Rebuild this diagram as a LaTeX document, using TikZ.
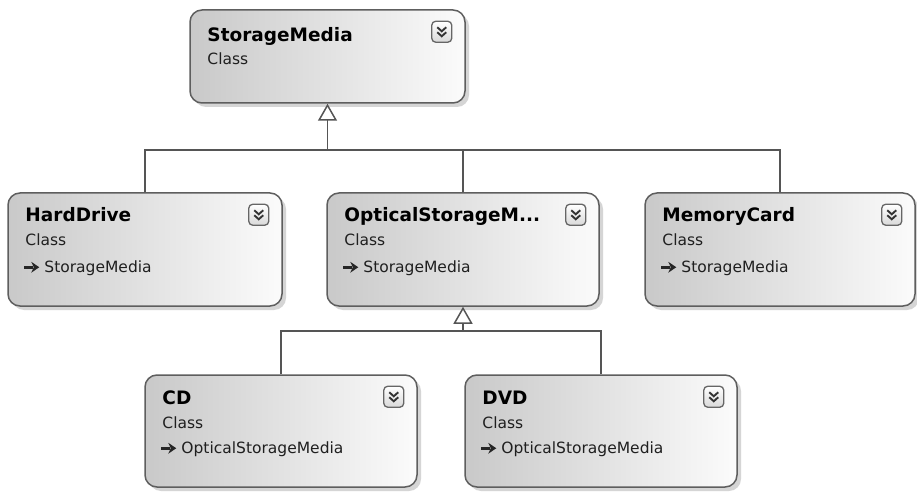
\documentclass[tikz,border=0pt]{standalone}
\usepackage{fontspec}
\setmainfont{DejaVu Sans}
\usetikzlibrary{arrows.meta,shadows}
\definecolor{boxline}{HTML}{5E5E5E}
\definecolor{connc}{HTML}{555555}
\definecolor{shadeL}{HTML}{C9C9C9}
\definecolor{shadeR}{HTML}{FBFBFB}
\tikzset{
  classbox/.style={draw=boxline, line width=1.5pt, rounded corners=12pt,
    left color=shadeL, right color=shadeR,
    drop shadow={shadow xshift=4pt, shadow yshift=-4pt, fill=black!32},
    inner sep=0pt},
  titletext/.style={anchor=base west, inner sep=0pt,
    font=\fontsize{18.5}{20}\selectfont\bfseries, text=black},
  subtext/.style={anchor=base west, inner sep=0pt,
    font=\fontsize{15.5}{18}\selectfont, text=black!88},
  btn/.style={draw=black!60, line width=1.3pt, rounded corners=4pt,
    top color=white, bottom color=black!15,
    minimum width=20pt, minimum height=21pt, inner sep=0pt},
  chev/.style={draw=black!80, line width=1.9pt},
  glyphline/.style={draw=black!85, line width=2.6pt},
  glyphhead/.style={fill=black!85},
  connline/.style={draw=connc, line width=1.8pt},
  gen/.style={connline, -{Triangle[open, fill=white, length=17pt, width=19pt, line width=1.5pt]}}
}
% id, left, top, width, height, title, title offset, class offset
\newcommand\umlbox[8]{%
  \node[classbox, minimum width=#4pt, minimum height=#5pt] (#1) at ({#2+#4/2},{#3+#5/2}) {};
  \node[titletext] (#1-t) at ([xshift=18pt,yshift=-#7pt]#1.north west) {#6};
  \node[subtext] (#1-c) at ([xshift=18pt,yshift=-#8pt]#1.north west) {Class};
  \node[btn] (#1-b) at ([xshift=-24pt,yshift=-22.5pt]#1.north east) {};
  \draw[chev] ([xshift=-4.5pt,yshift=4.5pt]#1-b.center) -- ++(4.5pt,-4pt) -- ++(4.5pt,4pt);
  \draw[chev] ([xshift=-4.5pt,yshift=-0.5pt]#1-b.center) -- ++(4.5pt,-4pt) -- ++(4.5pt,4pt);
}
% id, text, baseline offset
\newcommand\umlinherit[3]{%
  \node[subtext] (#1-i) at ([xshift=37pt,yshift=-#3pt]#1.north west) {#2};
  \draw[glyphline] ([xshift=-20pt,yshift=5pt]#1-i.base west) -- ++(9pt,0pt);
  \fill[glyphhead] ([xshift=-13pt,yshift=10.5pt]#1-i.base west) -- ++(8pt,-5.5pt)
    -- ++(-8pt,-5.5pt) -- ++(2.5pt,5.5pt) -- cycle;
}
\begin{document}
\begin{tikzpicture}[x=1pt,y=-1pt]
  \fill[white] (0,0) rectangle (917,494);
  \useasboundingbox (0,0) rectangle (917,494);

  \umlbox{sm}{190}{10}{275}{93}{StorageMedia}{32}{55}
  \umlbox{hd}{8}{193}{274}{113}{HardDrive}{29}{53}
  \umlinherit{hd}{StorageMedia}{80}
  \umlbox{op}{327}{193}{272}{113}{OpticalStorageM...}{29}{53}
  \umlinherit{op}{StorageMedia}{80}
  \umlbox{mc}{645}{193}{270}{113}{MemoryCard}{29}{53}
  \umlinherit{mc}{StorageMedia}{80}
  \umlbox{cd}{145}{375}{272}{112}{CD}{30}{54}
  \umlinherit{cd}{OpticalStorageMedia}{79}
  \umlbox{dvd}{465}{375}{272}{112}{DVD}{30}{54}
  \umlinherit{dvd}{OpticalStorageMedia}{79}

  \coordinate (bus1) at (327.5,150);
  \draw[connline] (hd.north) |- (bus1);
  \draw[connline] (mc.north) |- (bus1);
  \draw[connline] (op.north) -- (op.north |- bus1);
  \draw[gen] (bus1) -- (sm.south);

  \coordinate (bus2) at (463,331);
  \draw[connline] (cd.north) |- (bus2);
  \draw[connline] (dvd.north) |- (bus2);
  \draw[gen] (bus2) -- (op.south);
\end{tikzpicture}
\end{document}
